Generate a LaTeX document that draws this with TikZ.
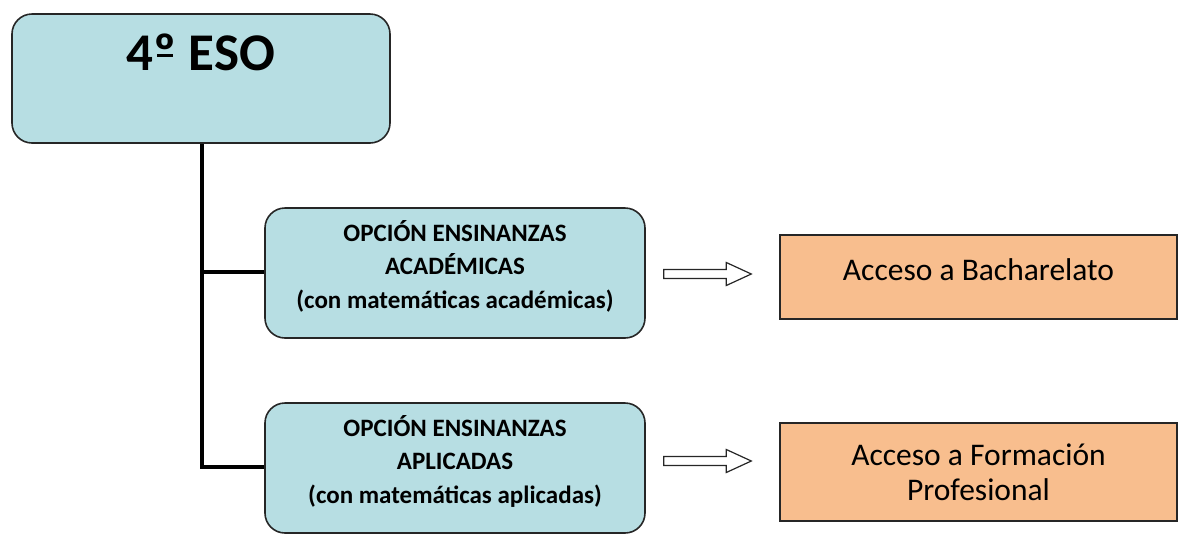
\documentclass[tikz,border=0pt]{standalone}
\usepackage{fontspec}
\setmainfont{Carlito}
\usetikzlibrary{calc}
\definecolor{boxblue}{HTML}{B7DEE3}
\definecolor{boxorange}{HTML}{F8BE8E}
\definecolor{edge}{HTML}{262626}
\newcommand{\ordo}{\ooalign{º\cr\hidewidth\rule[0.24em]{0.3em}{0.06em}\hidewidth}}
\tikzset{
  bluebox/.style={draw=edge, line width=1.6pt, fill=boxblue, rounded corners=20pt, inner sep=0pt},
  orangebox/.style={draw=edge, line width=1.4pt, fill=boxorange, inner sep=0pt},
  tree/.style={line width=4.5pt, draw=black},
  hollow/.style={draw=edge, line width=1.2pt, fill=white, line join=miter},
  optext/.style={font=\fontsize{25}{33.5}\selectfont\bfseries, align=center},
  acctext/.style={font=\fontsize{31.5}{35}\selectfont, align=center}
}
\begin{document}
\begin{tikzpicture}[x=1pt,y=-1pt]
\useasboundingbox (0,0) rectangle (1187,542);
% boxes
\node[bluebox, minimum width=378pt, minimum height=129pt] (eso) at (201,78.5) {};
\node[font=\fontsize{53}{56}\selectfont\bfseries] (esotxt) at (201,52) {4\ordo{} ESO};
\node[bluebox, minimum width=380pt, minimum height=130pt] (aca) at (455,273) {};
\node[optext] (acatxt) at (455,266) {OPCIÓN ENSINANZAS\\ACADÉMICAS\\(con matemáticas académicas)};
\node[bluebox, minimum width=380pt, minimum height=130pt] (apl) at (455,468) {};
\node[optext] (apltxt) at (455,461) {OPCIÓN ENSINANZAS\\APLICADAS\\(con matemáticas aplicadas)};
\node[orangebox, minimum width=397pt, minimum height=84pt] (bach) at (978.5,277) {};
\node[acctext] (bachtxt) at (978.5,270) {Acceso a Bacharelato};
\node[orangebox, minimum width=397pt, minimum height=98pt] (fp) at (978.5,472) {};
\node[acctext] (fptxt) at (978.5,472) {Acceso a Formación\\Profesional};
% tree connectors
\coordinate (trunk) at (eso.south -| 202,0);
\coordinate (j1) at (202,272);
\coordinate (j2) at (202,467);
\draw[tree] (trunk) -- (j2 |- 0,469.25);
\draw[tree] (j1) -- (j1 -| aca.west);
\draw[tree] (j2) -- (j2 -| apl.west);
% hollow arrows
\foreach \src/\dst/\yy in {aca/bach/274, apl/fp/461}{
  \coordinate (s) at ($(\src.east |- 0,\yy)+(18,0)$);
  \coordinate (e) at ($(\dst.west |- 0,\yy)+(-28,0)$);
  \draw[hollow] ($(s)+(0,-4.5)$) -- ($(e)+(-25,-4.5)$) -- ($(e)+(-25,-11.5)$) -- (e)
     -- ($(e)+(-25,11.5)$) -- ($(e)+(-25,4.5)$) -- ($(s)+(0,4.5)$) -- cycle;
}
\end{tikzpicture}
\end{document}
